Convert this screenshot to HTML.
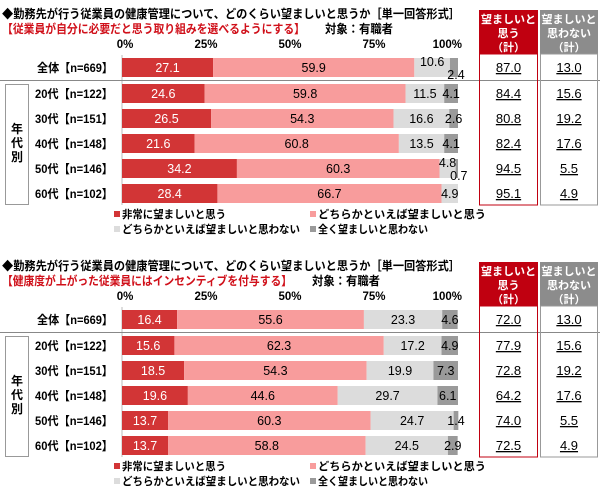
<!DOCTYPE html>
<html><head><meta charset="utf-8">
<style>
html,body{margin:0;padding:0;background:#fff;}
svg{display:block;font-family:"Liberation Sans","Noto Sans CJK JP",sans-serif;}
</style></head>
<body>
<svg id="svg" width="600" height="494" viewBox="0 0 600 494"></svg>
<script>
const categories = ["全体【n=669】","20代【n=122】","30代【n=151】","40代【n=148】","50代【n=146】","60代【n=102】"];
const tickLabels = ["0%","25%","50%","75%","100%"];
const tickValues = [0,25,50,75,100];
const seriesNames = ["非常に望ましいと思う","どちらかといえば望ましいと思う","どちらかといえば望ましいと思わない","全く望ましいと思わない"];
const c1Very = [27.1,24.6,26.5,21.6,34.2,28.4];
const c1Some = [59.9,59.8,54.3,60.8,60.3,66.7];
const c1NotSome = [10.6,11.5,16.6,13.5,4.8,4.9];
const c1NotAll = [2.4,4.1,2.6,4.1,0.7,0];
const c1Yes = ["87.0","84.4","80.8","82.4","94.5","95.1"];
const c1No = ["13.0","15.6","19.2","17.6","5.5","4.9"];
const c2Very = [16.4,15.6,18.5,19.6,13.7,13.7];
const c2Some = [55.6,62.3,54.3,44.6,60.3,58.8];
const c2NotSome = [23.3,17.2,19.9,29.7,24.7,24.5];
const c2NotAll = [4.6,4.9,7.3,6.1,1.4,2.9];
const c2Yes = ["72.0","77.9","72.8","64.2","74.0","72.5"];
const c2No = ["13.0","15.6","19.2","17.6","5.5","4.9"];

const NS="http://www.w3.org/2000/svg";
const svg=document.getElementById('svg');
const colors=["#d23536","#f89c9c","#dcdcdc","#9a9a9a"];
const x0=122, x1=458;
function xs(v){return x0+(x1-x0)*v/100;}
function rowY(i){return i===0?58:84+(i-1)*25;}
function el(tag,attrs,parent){const e=document.createElementNS(NS,tag);for(const k in attrs)e.setAttribute(k,attrs[k]);(parent||svg).appendChild(e);return e;}
function txt(s,x,y,attrs,parent){const t=el('text',Object.assign({x:x,y:y},attrs),parent);t.textContent=s;return t;}
function fit(t,len){t.setAttribute('textLength',len);t.setAttribute('lengthAdjust','spacingAndGlyphs');}

function drawChart(off, subtitle, subLen, data, yes, no, idx){
  const g=el('g',{});
  
  
  const t=txt("◆勤務先が行う従業員の健康管理について、どのくらい望ましいと思うか［単一回答形式］",2,off+18,{'font-size':'12','font-weight':'bold',fill:'#000'},g);
  fit(t,458);
  
  
  const st=txt(subtitle,2,off+33,{'font-size':'12','font-weight':'bold',fill:'#d0101a'},g);
  fit(st,subLen);
  
  
  const tg=txt("対象：有職者",subLen+22,off+33,{'font-size':'12','font-weight':'bold',fill:'#000'},g);
  fit(tg,68);
  
  
  tickValues.forEach((v,i)=>{
    const a=i===4?'end':'middle';
    const tx=txt(tickLabels[i],i===4?xs(v)+4:xs(v)+(i===0?3:0),off+48,{'font-size':'11.5','font-weight':'bold','text-anchor':a},g);
    
    
  });
  const ax=el('line',{x1:x0,x2:x0,y1:off+55,y2:off+205,stroke:'#bbb','stroke-width':1},g);
  
  
  const sep=el('line',{x1:0,x2:600,y1:off+80.5,y2:off+80.5,stroke:'#888','stroke-width':1},g);
  
  
  const gb=el('rect',{x:5.5,y:off+84.5,width:23,height:120,fill:'#fff',stroke:'#999'},g);
  
  
  ["年","代","別"].forEach((c,i)=>{
    const gt=txt(c,17,off+133+i*14,{'font-size':'12','font-weight':'bold','text-anchor':'middle'},g);
    
    
  });
  const rh=el('rect',{x:479,y:off+10,width:59,height:44,fill:'#c00010'},g);
  
  
  const gh=el('rect',{x:540,y:off+10,width:58,height:44,fill:'#8c8c8c'},g);
  
  
  [["望ましいと","思う","（計）"],["望ましいと","思わない","（計）"]].forEach((lines,j)=>{
    lines.forEach((l,k)=>{
      const ht=txt(l,j===0?508.5:569,off+23+k*14,{'font-size':'11','font-weight':'bold',fill:'#fff','text-anchor':'middle'},g);
      if(k===0) fit(ht,55);
      
      
    });
  });
  const ro=el('rect',{x:479.5,y:off+54,width:58,height:151,fill:'none',stroke:'#c00010','stroke-width':1},g);
  
  
  const go=el('rect',{x:540.5,y:off+54,width:57,height:151,fill:'none',stroke:'#999','stroke-width':1},g);
  
  
  categories.forEach((cat,i)=>{
    const y=off+rowY(i);
    const cl=txt(cat,113,y+14,{'font-size':'12','font-weight':'bold','text-anchor':'end'},g);
    fit(cl,i===0?76:78);
    
    
    let acc=0;
    data.forEach((ser,s)=>{
      const v=ser[i];
      if(v<=0){acc+=v;return;}
      const bx=xs(acc), bw=xs(acc+v)-xs(acc);
      const r=el('rect',{x:bx,y:y,width:bw,height:19,fill:colors[s]},g);
      
      
      let lx=bx+bw/2, ly=y+14;
      const nextV = s<3?data[s+1][i]:0;
      const prevV = s===3?data[2][i]:0;
      if(s===2 && v<12 && nextV>0 && nextV<3){ly=y+8;}
      if(s===3 && v<3 && prevV<12){ly=y+21; lx=bx+bw/2+2;}
      const lt=txt(v.toFixed(1),lx,ly,{'font-size':'12.5','text-anchor':'middle',fill:s===0?'#fff':'#000'},g);
      
      
      acc+=v;
    });
    const yt=txt(yes[i],508.5,y+14,{'font-size':'13','text-anchor':'middle','text-decoration':'underline'},g);
    
    
    const nt=txt(no[i],569,y+14,{'font-size':'13','text-anchor':'middle','text-decoration':'underline'},g);
    
    
  });
  const lp=[[114,off+218],[310,off+218],[114,off+233],[310,off+233]];
  const ll=[104,168,178,110];
  seriesNames.forEach((n,s)=>{
    const lr=el('rect',{x:lp[s][0],y:lp[s][1]-7,width:6,height:6,fill:colors[s]},g);
    
    
    const lt=txt(n,lp[s][0]+8,lp[s][1],{'font-size':'11','font-weight':'bold'},g);
    fit(lt,ll[s]);
    
    
  });
}
drawChart(0,"【従業員が自分に必要だと思う取り組みを選べるようにする】",303,[c1Very,c1Some,c1NotSome,c1NotAll],c1Yes,c1No,1);
drawChart(252,"【健康度が上がった従業員にはインセンティブを付与する】",290,[c2Very,c2Some,c2NotSome,c2NotAll],c2Yes,c2No,2);
</script>
</body></html>
